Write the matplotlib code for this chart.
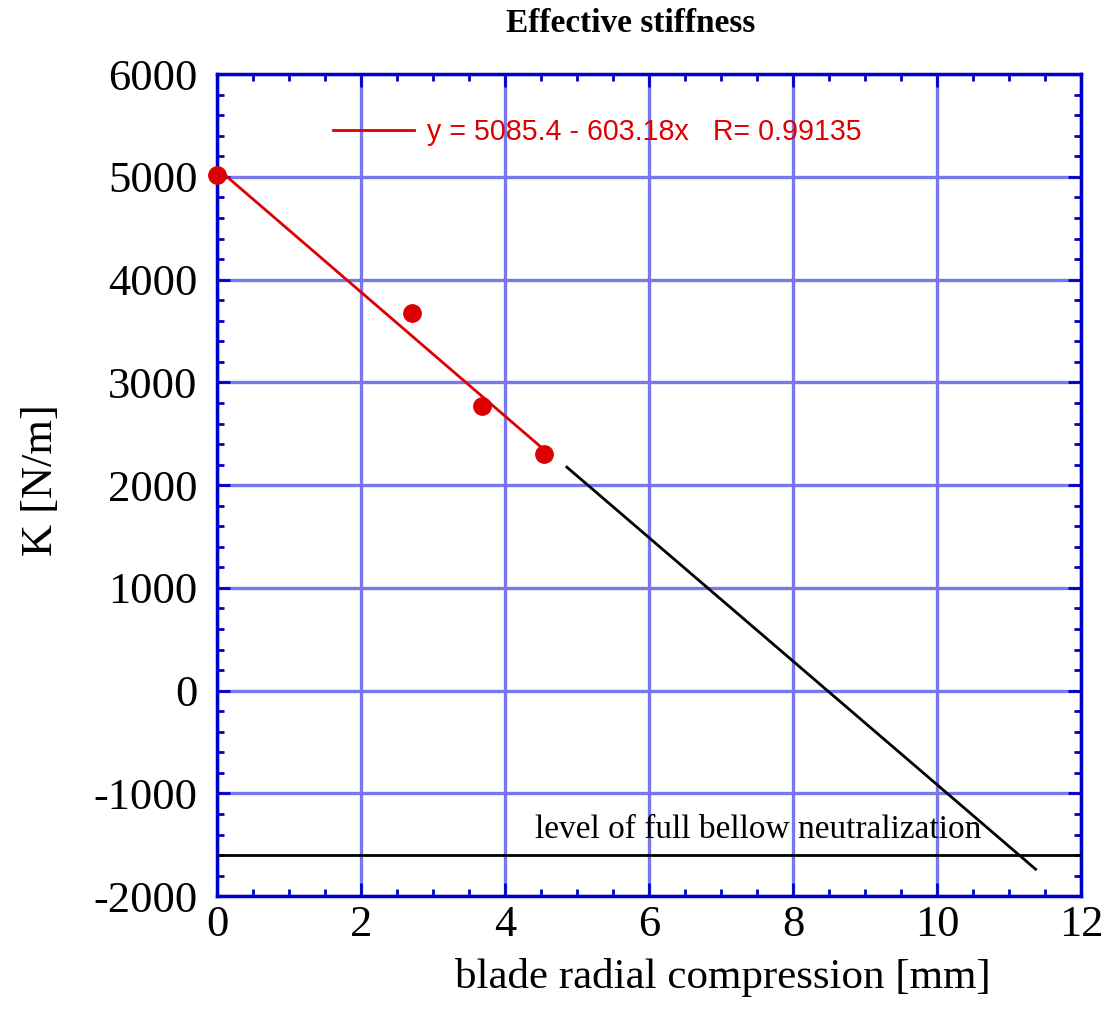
import matplotlib
matplotlib.use("Agg")
import matplotlib.pyplot as plt
from matplotlib.ticker import MultipleLocator

plt.rcParams["axes.unicode_minus"] = False

# measured points
comp_mm = [0.0, 2.71, 3.68, 4.54]
stiff = [5017, 3674, 2769, 2302]
# linear fit drawn over the measured range
fit_x = [0.0, 4.55]
fit_y = [5085, 2341]
fit_label = "y = 5085.4 - 603.18x   R= 0.99135"
# extrapolation beyond the measurements
extra_x = [4.86, 11.37]
extra_y = [2175, -1737]
bellow_level = -1600

SERIF = ["Liberation Serif", "DejaVu Serif"]
BLUE = "#0000cc"
GRID = "#7878ea"
RED = "#dd0000"

fig = plt.figure(figsize=(11.07, 10.15), dpi=100)
ax = fig.add_axes([0.196, 0.117, 0.7805, 0.81])

ax.plot(extra_x, extra_y, color="black", lw=2, zorder=3)
ax.axhline(bellow_level, color="black", lw=2, zorder=3)
ax.plot(fit_x, fit_y, color=RED, lw=2, zorder=4)
ax.plot(comp_mm, stiff, "o", color=RED, ms=12.5, mec=RED, zorder=5, clip_on=False)

ax.text(4.42, -1350, "level of full bellow neutralization", family=SERIF, fontsize=24,
        va="center", ha="left", zorder=6)

# legend drawn by hand, as in the original
ax.plot([1.61, 2.74], [5455, 5455], color=RED, lw=2, zorder=4)
ax.text(2.92, 5435, fit_label, color=RED, family=["Liberation Sans", "DejaVu Sans"],
        fontsize=20.6, va="center", ha="left")

ax.set_xlim(0, 12)
ax.set_ylim(-2000, 6000)
ax.xaxis.set_major_locator(MultipleLocator(2))
ax.xaxis.set_minor_locator(MultipleLocator(0.5))
ax.yaxis.set_major_locator(MultipleLocator(1000))
ax.yaxis.set_minor_locator(MultipleLocator(200))
ax.grid(True, which="major", color=GRID, lw=2.4, zorder=0)
ax.set_axisbelow(True)

ax.tick_params(which="both", direction="in", top=True, right=True, color=BLUE, width=2)
ax.tick_params(which="major", length=9.5)
ax.tick_params(which="minor", length=5)
ax.tick_params(axis="y", which="major", pad=14)
ax.tick_params(axis="x", which="major", pad=6)
for sp in ax.spines.values():
    sp.set_color(BLUE)
    sp.set_linewidth(2.5)
for lab in ax.get_xticklabels() + ax.get_yticklabels():
    lab.set_family(SERIF)
    lab.set_fontsize(32)

ax.set_xlabel("blade radial compression [mm]", family=SERIF, fontsize=31)
ax.xaxis.set_label_coords(0.585, -0.075)
ax.set_ylabel("K [N/m]", family=SERIF, fontsize=32)
ax.yaxis.set_label_coords(-0.180, 0.506)

fig.text(0.57, 0.977, "Effective stiffness", family=SERIF, fontsize=24, fontweight="bold",
         ha="center", va="center")

fig.savefig("out.png", dpi=100)
